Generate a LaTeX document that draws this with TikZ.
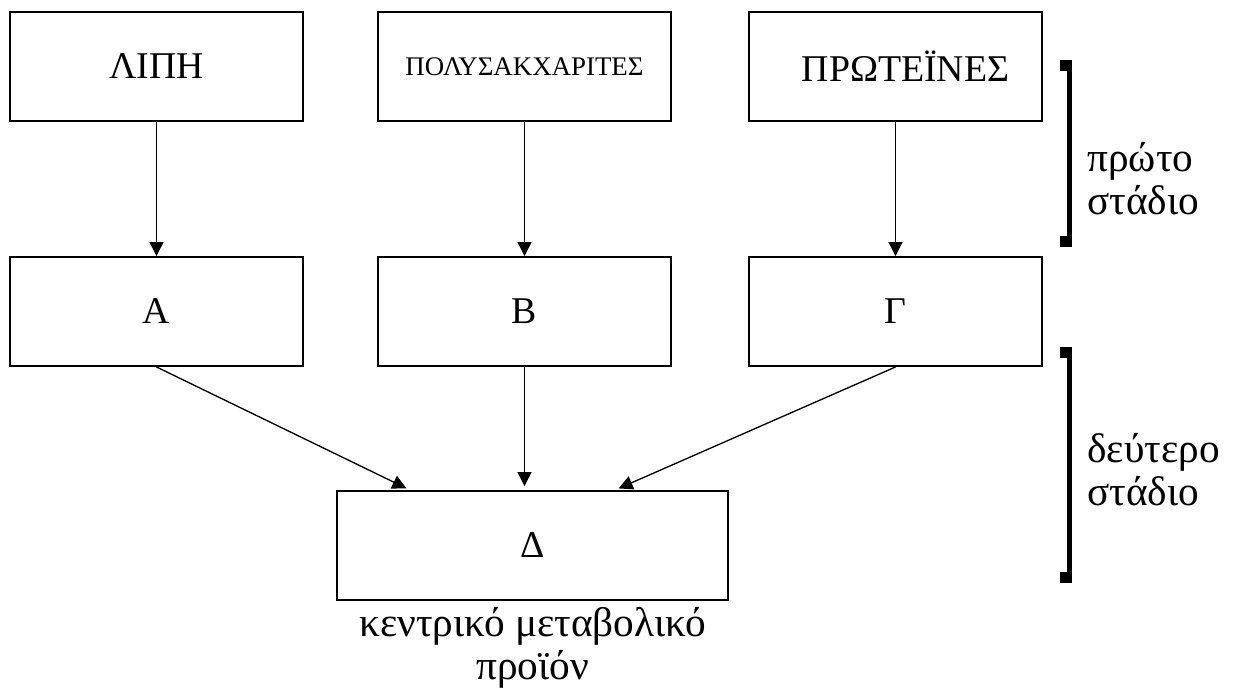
\documentclass[tikz,border=0pt]{standalone}
\usepackage{fontspec}
\setmainfont{Liberation Serif}
\usetikzlibrary{arrows.meta,positioning}
\tikzset{
boxstyle/.style={rectangle, draw, line width=1.1pt, minimum width=5.86cm, minimum height=2.18cm, inner sep=0pt, font=\fontsize{21.5}{24}\selectfont},
arrowstyle/.style={-{Triangle[length=0.28cm, width=0.28cm]}, line width=0.75pt},
textstyle/.style={inner sep=0pt, align=left, font=\fontsize{23.5}{24.5}\selectfont}
}
\newcommand{\stagebracket}[2]{
  \fill (21.2, #1-0.22) rectangle (21.44, #1);
  \fill (21.2, #2) rectangle (21.44, #2+0.22);
  \fill (21.34, #2) rectangle (21.44, #1);
}

\begin{document}
\begin{tikzpicture}
\useasboundingbox (0,0) rectangle (24.66,13.76);

% first row
\node [boxstyle] (lipi) at (3.13, 12.43) {ΛΙΠΗ};
\node [boxstyle, font=\fontsize{15.3}{18}\selectfont] (polys) at (10.49, 12.43) {ΠΟΛΥΣΑΚΧΑΡΙΤΕΣ};
\node [boxstyle] (prot) at (17.91, 12.43) {\hspace{0.4cm}ΠΡΩΤΕΪΝΕΣ};

% second row
\node [boxstyle] (boxa) at (3.13, 7.53) {Α};
\node [boxstyle] (boxb) at (10.49, 7.53) {Β};
\node [boxstyle] (boxg) at (17.91, 7.53) {Γ};

\node [boxstyle, minimum width=7.82cm] (boxd) at (10.65, 2.85) {Δ};
\node [textstyle, align=center, below=0.12cm of boxd] (product) {κεντρικό μεταβολικό\\προϊόν};

\draw [arrowstyle] (lipi) -- (boxa);
\draw [arrowstyle] (polys) -- (boxb);
\draw [arrowstyle] (prot) -- (boxg);

\draw [arrowstyle, shorten >=0.08cm] (boxa.south) -- ([xshift=-2.45cm]boxd.north);
\draw [arrowstyle, shorten >=0.08cm] (boxb.south) -- (boxb.south |- boxd.north);
\draw [arrowstyle, shorten >=0.08cm] (boxg.south) -- ([xshift=1.65cm]boxd.north);

% stages
\stagebracket {12.56} {8.82}
\stagebracket {6.82} {2.10}
\node [textstyle, anchor=west] (first) at (21.74, 10.18) {πρώτο\\στάδιο};
\node [textstyle, anchor=west] (second) at (21.74, 4.36) {δεύτερο\\στάδιο};

\end{tikzpicture}
\end{document}
